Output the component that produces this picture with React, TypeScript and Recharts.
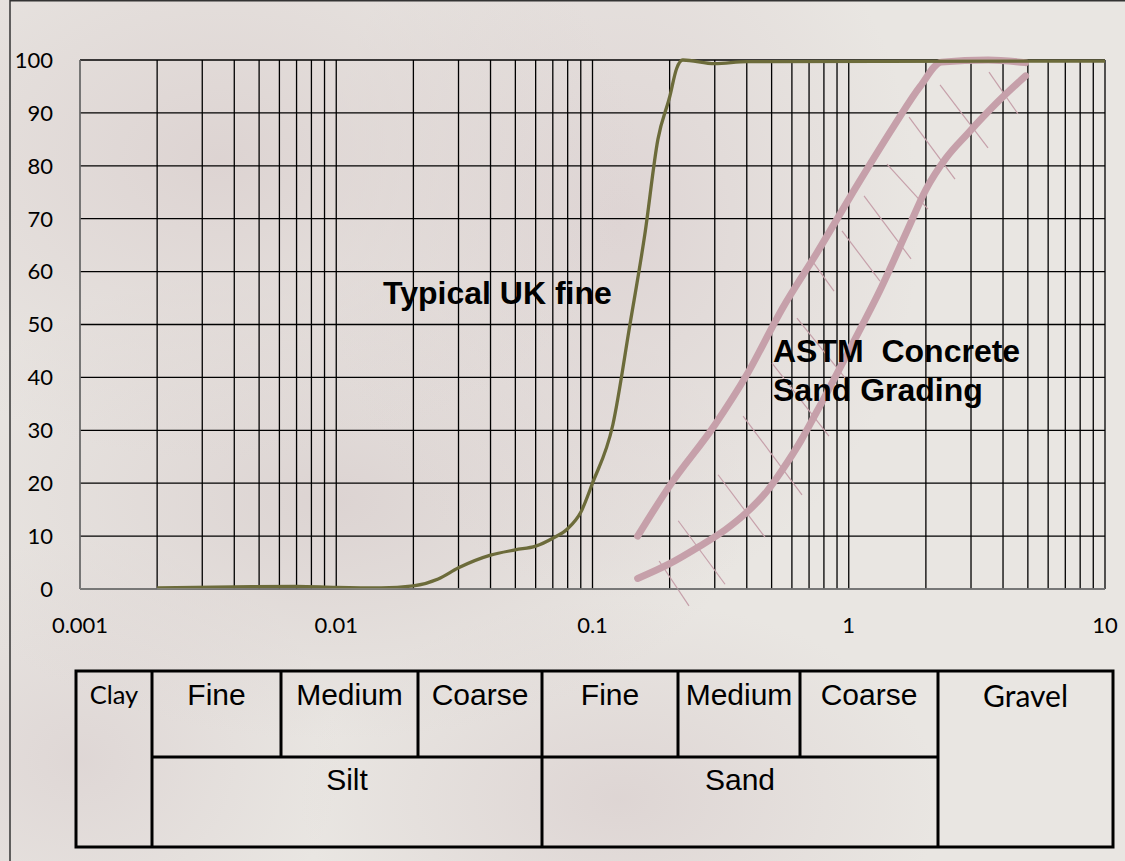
import React from 'react';
import { LineChart, Line, XAxis, YAxis, CartesianGrid, ReferenceLine } from 'recharts';

// particle size (mm) on a log axis, % passing on the y axis
const majorSizes = [0.001, 0.01, 0.1, 1, 10];
const minorSizes = [
  0.002, 0.003, 0.004, 0.005, 0.006, 0.007, 0.008, 0.009,
  0.01, 0.02, 0.03, 0.04, 0.05, 0.06, 0.07, 0.08, 0.09,
  0.1, 0.2, 0.3, 0.4, 0.5, 0.6, 0.7, 0.8, 0.9,
  1, 2, 3, 4, 5, 6, 7, 8, 9, 10,
];
const passTicks = [0, 10, 20, 30, 40, 50, 60, 70, 80, 90, 100];

const ukFineSize = [0.002, 0.004, 0.007, 0.01, 0.015, 0.02, 0.025, 0.03, 0.04, 0.05, 0.06, 0.07, 0.08, 0.09, 0.1, 0.12, 0.14, 0.16, 0.18, 0.2, 0.213, 0.225, 0.3, 0.4, 10];
const ukFinePass = [0.2, 0.4, 0.5, 0.3, 0.2, 0.6, 1.9, 4, 6.4, 7.4, 8.1, 9.6, 11.4, 14.5, 20, 31, 50, 67, 85, 93, 98.4, 100, 99.3, 99.7, 99.8];

const astmFineSize = [0.15, 0.2, 0.3, 0.4, 0.55, 0.75, 1.1, 1.5, 1.9, 2.3, 3.5, 4.9];
const astmFinePass = [10, 19.5, 31, 40.5, 53, 63.5, 77, 87.5, 95, 99.6, 100, 99.5];

const astmCoarseSize = [0.15, 0.2, 0.26, 0.33, 0.4, 0.48, 0.55, 0.65, 0.75, 1.0, 1.34, 1.7, 2.0, 2.4, 2.9, 3.8, 4.9];
const astmCoarsePass = [2, 4.8, 8, 11.2, 14.5, 18.5, 22.5, 28, 33.5, 45, 57, 68, 75.5, 81.5, 86, 92, 97];

// hatching across the ASTM band: [size1, pass1, size2, pass2]
const hatches = [
  [0.182, 5.3, 0.238, -3.2],
  [0.216, 12.9, 0.329, 0.9],
  [0.309, 21.6, 0.471, 9.8],
  [0.387, 32.7, 0.657, 17.8],
  [0.502, 42.7, 0.837, 28.9],
  [0.628, 51.2, 0.967, 39.9],
  [0.706, 62.6, 0.876, 56.3],
  [0.941, 67.7, 1.324, 58.2],
  [1.147, 74.3, 1.75, 62.4],
  [1.41, 80.3, 2.038, 71.8],
  [1.719, 89.2, 2.598, 77.5],
  [2.271, 95.3, 3.495, 83.4],
  [3.527, 97.7, 4.576, 89.8],
];

const siltBands = ['Fine', 'Medium', 'Coarse'];
const sandBands = ['Fine', 'Medium', 'Coarse'];

const toRows = (xs: number[], ys: number[]) => xs.map((size, i) => ({ size, pass: ys[i] }));

const ukFine = toRows(ukFineSize, ukFinePass);
const astmFine = toRows(astmFineSize, astmFinePass);
const astmCoarse = toRows(astmCoarseSize, astmCoarsePass);

const PINK = '#c6a0aa';
const OLIVE = '#6c6b3a';
const SANS = '"Liberation Sans", Arial, sans-serif';
const CAL = 'Lato, "Open Sans", sans-serif';

function SoilTable() {
  const top = 671;
  const mid = 757;
  const bottom = 847;
  const siltX = [152, 281, 418, 542];
  const sandX = [542, 678, 800, 938];
  const sw = 3;
  return (
    <svg width={1125} height={861} style={{ position: 'absolute', left: 0, top: 0, pointerEvents: 'none' }}>
      {/* outer frame of the slide */}
      <line x1={10} y1={0} x2={10} y2={861} stroke="#333" strokeWidth={1.5} />
      <line x1={10} y1={0.75} x2={1125} y2={0.75} stroke="#333" strokeWidth={1.5} />

      <text x={383} y={304} fontFamily={SANS} fontWeight="bold" fontSize={32} fill="#000">Typical UK fine</text>
      <text x={773} y={362} fontFamily={SANS} fontWeight="bold" fontSize={32} fill="#000" style={{ whiteSpace: 'pre' }}>ASTM  Concrete</text>
      <text x={773} y={401} fontFamily={SANS} fontWeight="bold" fontSize={32} fill="#000">Sand Grading</text>

      <g fill="none" stroke="#000" strokeWidth={sw}>
        <rect x={76} y={top} width={1113 - 76} height={bottom - top} />
        <line x1={152} y1={top} x2={152} y2={bottom} />
        <line x1={542} y1={top} x2={542} y2={bottom} />
        <line x1={938} y1={top} x2={938} y2={bottom} />
        <line x1={152} y1={mid} x2={938} y2={mid} />
        <line x1={281} y1={top} x2={281} y2={mid} />
        <line x1={418} y1={top} x2={418} y2={mid} />
        <line x1={678} y1={top} x2={678} y2={mid} />
        <line x1={800} y1={top} x2={800} y2={mid} />
      </g>
      <g fill="#000" textAnchor="middle">
        <text x={114} y={704} fontFamily={CAL} fontSize={25.5}>Clay</text>
        {siltBands.map((b, i) => (
          <text key={'si' + b} x={(siltX[i] + siltX[i + 1]) / 2} y={705} fontFamily={SANS} fontSize={30}>{b}</text>
        ))}
        {sandBands.map((b, i) => (
          <text key={'sa' + b} x={(sandX[i] + sandX[i + 1]) / 2} y={705} fontFamily={SANS} fontSize={30}>{b}</text>
        ))}
        <text x={347} y={790} fontFamily={SANS} fontSize={30}>Silt</text>
        <text x={740} y={790} fontFamily={SANS} fontSize={30}>Sand</text>
        <text x={1025.5} y={707} fontFamily={CAL} fontSize={30}>Gravel</text>
      </g>
    </svg>
  );
}

export default function App() {
  return (
    <div
      style={{
        position: 'absolute',
        left: 0,
        top: 0,
        width: 1125,
        height: 861,
        overflow: 'hidden',
        background:
          'radial-gradient(ellipse 420px 300px at 220px 160px, rgba(218,207,206,0.8) 0%, rgba(218,207,206,0) 100%),' +
          'radial-gradient(ellipse 300px 380px at 620px 220px, rgba(219,208,208,0.8) 0%, rgba(219,208,208,0) 100%),' +
          'radial-gradient(ellipse 420px 240px at 330px 500px, rgba(217,207,206,0.8) 0%, rgba(217,207,206,0) 100%),' +
          'radial-gradient(ellipse 320px 200px at 620px 800px, rgba(219,209,208,0.8) 0%, rgba(219,209,208,0) 100%),' +
          'radial-gradient(ellipse 260px 220px at 80px 760px, rgba(220,211,210,0.8) 0%, rgba(220,211,210,0) 100%),' +
          '#e9e6e2',
      }}
    >
      <LineChart width={1125} height={640} margin={{ top: 60, right: 20, bottom: 21, left: 0 }}>
        <CartesianGrid xAxisId="minor" stroke="#000" strokeWidth={1.3} strokeDasharray="" />
        <XAxis
          xAxisId="minor"
          hide
          type="number"
          dataKey="size"
          scale="log"
          domain={[0.001, 10]}
          ticks={minorSizes}
          interval={0}
          allowDataOverflow
        />
        <XAxis
          type="number"
          dataKey="size"
          scale="log"
          domain={[0.001, 10]}
          ticks={majorSizes}
          allowDataOverflow
          tickFormatter={(v: number) => String(v)}
          axisLine={{ stroke: '#8c8c8c', strokeWidth: 1.3 }}
          tickLine={false}
          tickSize={6}
          tickMargin={22}
          tick={{ fill: '#000', fontSize: 22, fontFamily: CAL }}
          interval={0}
        />
        <YAxis
          type="number"
          domain={[0, 100]}
          ticks={passTicks}
          width={80}
          axisLine={{ stroke: '#8c8c8c', strokeWidth: 1.3 }}
          tickLine={false}
          tickSize={6}
          tickMargin={21}
          tick={{ fill: '#000', fontSize: 22, fontFamily: CAL }}
          interval={0}
        />
        {hatches.map((h, i) => (
          <ReferenceLine
            key={'h' + i}
            segment={[{ x: h[0], y: h[1] }, { x: h[2], y: h[3] }]}
            stroke={PINK}
            strokeWidth={1.2}
            ifOverflow="visible"
          />
        ))}
        <Line
          data={astmFine}
          dataKey="pass"
          type="monotone"
          stroke={PINK}
          strokeWidth={7}
          strokeLinecap="round"
          dot={false}
          isAnimationActive={false}
        />
        <Line
          data={astmCoarse}
          dataKey="pass"
          type="monotone"
          stroke={PINK}
          strokeWidth={7}
          strokeLinecap="round"
          dot={false}
          isAnimationActive={false}
        />
        <Line
          data={ukFine}
          dataKey="pass"
          type="monotone"
          stroke={OLIVE}
          strokeWidth={3.3}
          dot={false}
          isAnimationActive={false}
        />
      </LineChart>
      <SoilTable />
    </div>
  );
}
